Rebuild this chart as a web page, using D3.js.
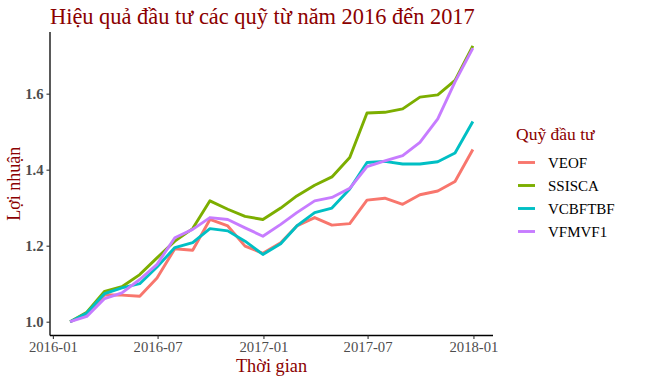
<!DOCTYPE html>
<html><head><meta charset="utf-8">
<script src="https://cdn.jsdelivr.net/npm/d3@7"></script>
<style>body{margin:0;background:#fff}svg{display:block}</style>
</head><body>
<svg id="c" width="668" height="380"></svg>
<script>
const dates = ["2016-01-31","2016-02-29","2016-03-31","2016-04-30","2016-05-31","2016-06-30","2016-07-31","2016-08-31","2016-09-30","2016-10-31","2016-11-30","2016-12-31","2017-01-31","2017-02-28","2017-03-31","2017-04-30","2017-05-31","2017-06-30","2017-07-31","2017-08-31","2017-09-30","2017-10-31","2017-11-30","2017-12-31"];
const funds = ["VEOF","SSISCA","VCBFTBF","VFMVF1"];
const VEOF    = [1.000,1.020,1.071,1.070,1.067,1.115,1.192,1.188,1.269,1.252,1.199,1.180,1.208,1.252,1.274,1.254,1.258,1.320,1.325,1.309,1.334,1.344,1.369,1.453];
const SSISCA  = [1.000,1.025,1.080,1.092,1.124,1.168,1.212,1.245,1.318,1.296,1.277,1.269,1.299,1.331,1.359,1.381,1.432,1.549,1.551,1.560,1.591,1.597,1.635,1.726];
const VCBFTBF = [1.000,1.023,1.074,1.089,1.100,1.144,1.195,1.208,1.245,1.239,1.212,1.177,1.205,1.252,1.287,1.299,1.349,1.419,1.422,1.415,1.415,1.421,1.444,1.527];
const VFMVF1  = [1.000,1.014,1.061,1.076,1.111,1.151,1.221,1.243,1.274,1.269,1.247,1.225,1.256,1.287,1.318,1.327,1.351,1.408,1.423,1.437,1.472,1.534,1.631,1.720];
const seriesVals = [VEOF, SSISCA, VCBFTBF, VFMVF1];
const colors = ["#F8766D","#7CAE00","#00BFC4","#C77CFF"];
const yTicks = [1.0,1.2,1.4,1.6];
const xTicks = ["2016-01-01","2016-07-01","2017-01-01","2017-07-01","2018-01-01"];
const title = "Hiệu quả đầu tư các quỹ từ năm 2016 đến 2017";
const xLabel = "Thời gian", yLabel = "Lợi nhuận", legendTitle = "Quỹ đầu tư";

const parse = d3.utcParse("%Y-%m-%d");
const ds = dates.map(parse);
const svg = d3.select("#c");
const serif = "Liberation Serif, Times New Roman, serif";
const mLeft = 50, mRight = 493, mTop = 32, mBottom = 335.5;

const t0 = ds[0].getTime(), t1 = ds[ds.length-1].getTime(), dt = (t1-t0)*0.05;
const x = d3.scaleUtc().domain([new Date(t0-dt), new Date(t1+dt)]).range([mLeft, mRight]);
const allV = seriesVals.flat();
const vmin = d3.min(allV), vmax = d3.max(allV), dv = (vmax-vmin)*0.05;
const y = d3.scaleLinear().domain([vmin-dv, vmax+dv]).range([mBottom, mTop]);

const lineGen = d3.line().x((d,i)=>x(ds[i])).y(d=>y(d));
seriesVals.forEach((vals,k)=>{
  svg.append("path").attr("d", lineGen(vals)).attr("fill","none")
    .attr("stroke", colors[k]).attr("stroke-width", 2.9).attr("stroke-linejoin","round");
});

const xa = svg.append("g").attr("transform",`translate(0,${mBottom})`)
  .call(d3.axisBottom(x).tickValues(xTicks.map(parse)).tickFormat(d3.utcFormat("%Y-%m")).tickSize(3.5).tickPadding(3));
const ya = svg.append("g").attr("transform",`translate(${mLeft},0)`)
  .call(d3.axisLeft(y).tickValues(yTicks).tickFormat(d3.format(".1f")).tickSize(3.5).tickPadding(3));
[xa,ya].forEach(a=>{
  a.attr("font-family",serif).attr("font-size",14.7);
  a.select(".domain").attr("stroke","#000").attr("stroke-width",1.3);
  a.selectAll(".tick line").attr("stroke","#333").attr("stroke-width",1.1);
  a.selectAll("text").attr("fill","#4D4D4D");
});
ya.selectAll("text").attr("font-weight","bold");
ya.select(".domain").attr("d",`M0,${mTop}V${mBottom}`);
xa.select(".domain").attr("d",`M${mLeft},0H${mRight}`);

svg.append("text").attr("x",50).attr("y",24).text(title)
  .attr("fill","#8B0000").attr("font-family",serif).attr("font-size",22.4);
svg.append("text").attr("x",(mLeft+mRight)/2).attr("y",372).attr("text-anchor","middle").text(xLabel)
  .attr("fill","#8B0000").attr("font-family",serif).attr("font-size",18.3);
svg.append("text").attr("transform",`translate(20,${(mTop+mBottom)/2}) rotate(-90)`).attr("text-anchor","middle").text(yLabel)
  .attr("fill","#8B0000").attr("font-family",serif).attr("font-size",18);

const lg = svg.append("g");
lg.append("text").attr("x",516).attr("y",140).text(legendTitle)
  .attr("fill","#8B0000").attr("font-family",serif).attr("font-size",17.5);
funds.forEach((f,i)=>{
  const yy = 162.5 + i*23;
  lg.append("line").attr("x1",518).attr("x2",535).attr("y1",yy).attr("y2",yy)
    .attr("stroke",colors[i]).attr("stroke-width",2.9);
  lg.append("text").attr("x",548).attr("y",yy+5).text(f)
    .attr("fill","#000").attr("font-family",serif).attr("font-size",15);
});
</script>
</body></html>
